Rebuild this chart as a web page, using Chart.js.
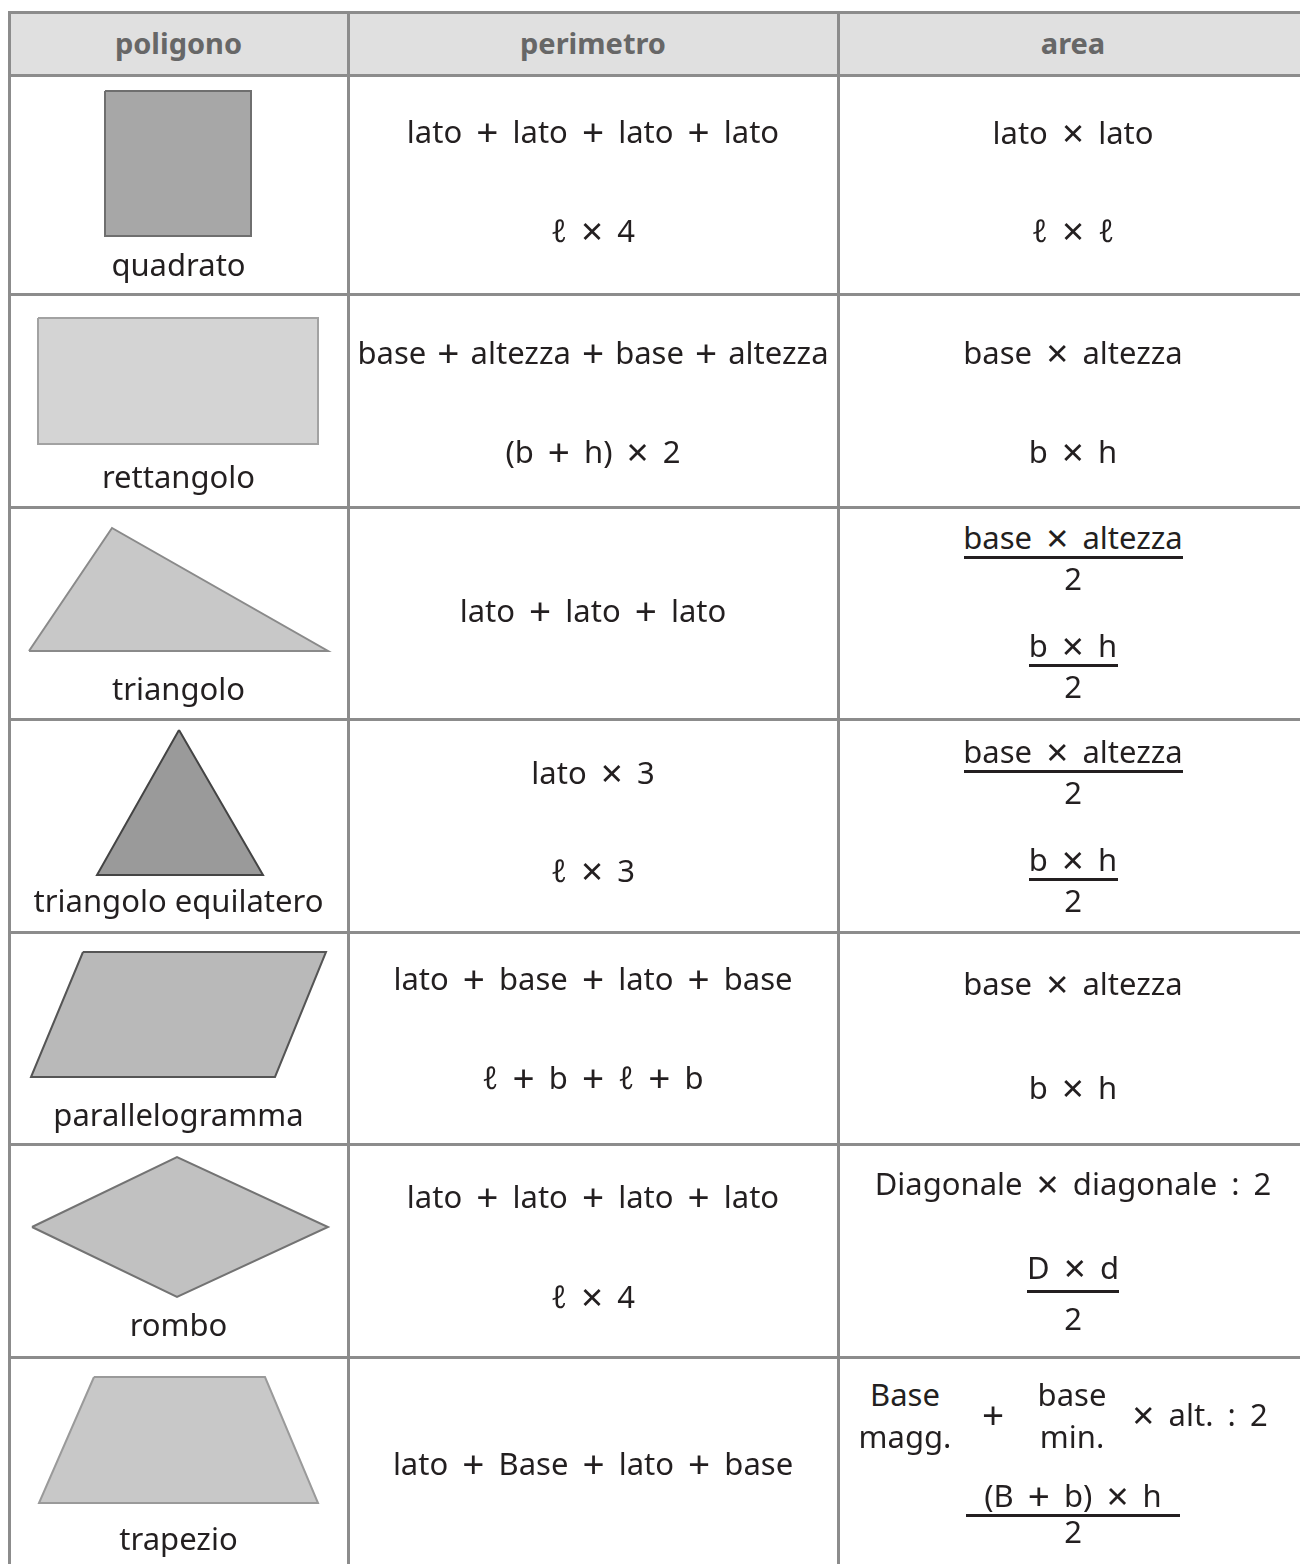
<!DOCTYPE html>
<html>
<head>
<meta charset="utf-8">
<title>poligoni</title>
<script src="https://cdn.jsdelivr.net/npm/chart.js@4.4.1/dist/chart.umd.min.js"></script>
<style>
html, body { margin: 0; padding: 0; background: #fff; }
body { width: 1300px; height: 1564px; overflow: hidden; position: relative;
       font-family: "Noto Sans", sans-serif; color: #231f20; }
.line { position: absolute; background: #8c8c8c; z-index: 5; }
.head { position: absolute; background: #e0e0e0; }
.txt { position: absolute; white-space: nowrap; text-align: center; line-height: 1; word-spacing: 6px; }
.txt .op { font-size: 1.25em; line-height: 0; vertical-align: -0.09em; }
.bar { position: absolute; background: #231f20; height: 3px; }
.cell { position: absolute; }
</style>
</head>
<body>
<script>
// contenuto della tabella
var headers = ["poligono", "perimetro", "area"];
var shapeNames = ["quadrato", "rettangolo", "triangolo", "triangolo equilatero",
                  "parallelogramma", "rombo", "trapezio"];

// vertici dei poligoni, in unita' della cella (x da sinistra, y dall'alto)
var shapePoints = [
  [[96, 16], [242, 16], [242, 161], [96, 161]],
  [[29, 24], [309, 24], [309, 150], [29, 150]],
  [[20, 144], [103, 21], [319, 144]],
  [[170, 11], [254, 156], [88, 156]],
  [[74, 20], [317, 20], [266, 145], [22, 145]],
  [[23, 83], [168, 13], [319, 83], [168, 153]],
  [[85, 20], [256, 20], [309, 146], [30, 146]]
];
var shapeFills = ["#a7a7a7", "#d4d4d4", "#c8c8c8", "#9a9a9a", "#b9b9b9", "#c1c1c1", "#c8c8c8"];
var shapeStrokes = ["#6f6f6f", "#a2a2a2", "#8a8a8a", "#444444", "#555555", "#737373", "#9a9a9a"];

var perimetro1 = ["lato + lato + lato + lato", "base + altezza + base + altezza", "lato + lato + lato",
                  "lato × 3", "lato + base + lato + base", "lato + lato + lato + lato", "lato + Base + lato + base"];
var perimetro2 = ["ℓ × 4", "(b + h) × 2", null, "ℓ × 3", "ℓ + b + ℓ + b", "ℓ × 4", null];

// una frazione e' [numeratore, denominatore]
var area1 = ["lato × lato", "base × altezza", ["base × altezza", "2"], ["base × altezza", "2"],
             "base × altezza", "Diagonale × diagonale : 2", null];
var area2 = ["ℓ × ℓ", "b × h", ["b × h", "2"], ["b × h", "2"], "b × h", ["D × d", "2"], ["(B + b) × h", "2"]];
var trapezioBasi = [["Base", "magg."], ["base", "min."]];
var trapezioResto = ["+", "× alt. : 2"];

// layout
var colEdges = [9, 348, 838, 1308];
var rowEdges = [12, 75, 294, 507, 719, 932, 1144, 1357, 1570];
var colMid = [178.5, 593, 1073];
var FS = 31;
var perimY1 = [140, 361, 619, 781, 987, 1205, 1472];
var perimY2 = [239, 460, null, 879, 1086, 1305, null];
var areaY1 = [141, 361, 557, 771, 992, 1192, null];
var areaY2 = [239, 460, 665, 879, 1096, 1291, 1515];
var labelY = [273, 485, 697, 909, 1123, 1333, 1547];

function place(text, cx, baseline, opts) {
  opts = opts || {};
  var fs = opts.size || FS;
  var d = document.createElement("div");
  d.className = "txt";
  d.style.left = (cx - 400) + "px";
  d.style.width = "800px";
  d.style.fontSize = fs + "px";
  d.style.top = (baseline - 0.79 * fs) + "px";
  if (opts.weight) d.style.fontWeight = opts.weight;
  if (opts.color) d.style.color = opts.color;
  if (opts.spacing !== undefined) d.style.wordSpacing = opts.spacing + "px";
  var s = document.createElement("span");
  s.innerHTML = text.replace(/([×+])/g, '<span class="op">$1</span>');
  d.appendChild(s);
  document.body.appendChild(d);
  // le righe troppo lunghe per la colonna si stringono un poco
  if (opts.maxWidth && s.offsetWidth > opts.maxWidth) {
    d.style.wordSpacing = "3px";
  }
  return s.offsetWidth;
}

function fraction(frac, cx, lineY, numGap, denGap, pad) {
  var w = place(frac[0], cx, lineY - numGap);
  place(frac[1], cx, lineY + denGap);
  var b = document.createElement("div");
  b.className = "bar";
  b.style.left = (cx - w / 2 - pad) + "px";
  b.style.width = (w + 2 * pad) + "px";
  b.style.top = (lineY - 1.5) + "px";
  document.body.appendChild(b);
}

function line(x, y, w, h) {
  var d = document.createElement("div");
  d.className = "line";
  d.style.left = x + "px"; d.style.top = y + "px";
  d.style.width = w + "px"; d.style.height = h + "px";
  document.body.appendChild(d);
}

// intestazione
var hd = document.createElement("div");
hd.className = "head";
hd.style.left = colEdges[0] + "px"; hd.style.top = rowEdges[0] + "px";
hd.style.width = (1300 - colEdges[0]) + "px"; hd.style.height = (rowEdges[1] - rowEdges[0]) + "px";
document.body.appendChild(hd);
for (var h = 0; h < headers.length; h++) {
  place(headers[h], colMid[h], 51, { size: 29, weight: 700, color: "#676767", spacing: 0 });
}

// griglia
for (var r = 0; r < rowEdges.length - 1; r++) {
  line(colEdges[0] - 1.5, rowEdges[r] - 1.5, 1320, 3);
}
for (var c = 0; c < colEdges.length; c++) {
  line(colEdges[c] - 1.5, rowEdges[0] - 1.5, 3, 1600);
}

// poligoni con Chart.js
for (var i = 0; i < shapeNames.length; i++) {
  var cw = colEdges[1] - colEdges[0];
  var ch = rowEdges[i + 2] - rowEdges[i + 1];
  var box = document.createElement("div");
  box.className = "cell";
  box.style.left = colEdges[0] + "px"; box.style.top = rowEdges[i + 1] + "px";
  box.style.width = cw + "px"; box.style.height = ch + "px";
  var cv = document.createElement("canvas");
  cv.width = cw; cv.height = ch;
  cv.style.width = cw + "px"; cv.style.height = ch + "px";
  box.appendChild(cv);
  document.body.appendChild(box);

  var pts = shapePoints[i].map(function (p) { return { x: p[0], y: p[1] }; });
  pts.push(pts[0]);

  new Chart(cv, {
    type: "scatter",
    data: {
      datasets: [{
        data: pts,
        showLine: true,
        fill: "shape",
        tension: 0,
        backgroundColor: shapeFills[i],
        borderColor: shapeStrokes[i],
        borderWidth: 2,
        borderJoinStyle: "miter",
        pointRadius: 0,
        pointHoverRadius: 0
      }]
    },
    options: {
      responsive: false,
      animation: false,
      events: [],
      layout: { padding: 0 },
      plugins: { legend: { display: false }, tooltip: { enabled: false } },
      scales: {
        x: { type: "linear", min: 0, max: cw, display: false },
        y: { type: "linear", min: 0, max: ch, reverse: true, display: false }
      }
    }
  });

  place(shapeNames[i], colMid[0], labelY[i], { spacing: 0 });
}

// perimetro
for (var p = 0; p < perimetro1.length; p++) {
  place(perimetro1[p], colMid[1], perimY1[p], { maxWidth: 476 });
  if (perimetro2[p]) place(perimetro2[p], colMid[1], perimY2[p]);
}

// area
for (var a = 0; a < area1.length; a++) {
  var riga1 = area1[a], riga2 = area2[a];
  if (riga1) {
    if (Array.isArray(riga1)) fraction(riga1, colMid[2], areaY1[a], 11, 30, 0);
    else place(riga1, colMid[2], areaY1[a]);
  }
  if (riga2) {
    if (Array.isArray(riga2)) {
      if (a === 5) fraction(riga2, colMid[2], areaY2[a], 15, 36, 0);
      else if (a === 6) fraction(riga2, colMid[2], areaY2[a], 11, 25, 18);
      else fraction(riga2, colMid[2], areaY2[a], 11, 30, 0);
    } else place(riga2, colMid[2], areaY2[a]);
  }
}

// trapezio: (Base magg. + base min.) x alt. : 2
place(trapezioBasi[0][0], 905, 1403);
place(trapezioBasi[0][1], 905, 1445);
place(trapezioResto[0], 993, 1423);
place(trapezioBasi[1][0], 1072, 1403);
place(trapezioBasi[1][1], 1072, 1445);
place(trapezioResto[1], 1200, 1423);
</script>
</body>
</html>
